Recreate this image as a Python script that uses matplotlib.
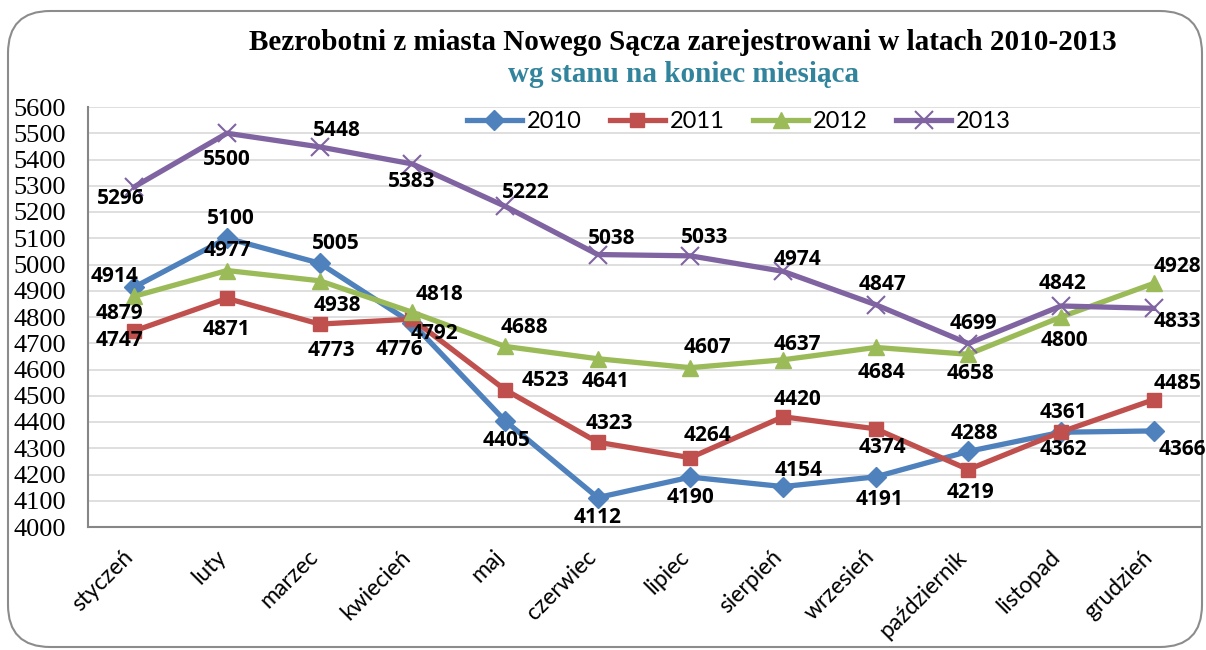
import matplotlib
matplotlib.use('Agg')
import matplotlib.pyplot as plt
from matplotlib.patches import FancyBboxPatch
from matplotlib.transforms import ScaledTranslation

months = ['styczeń', 'luty', 'marzec', 'kwiecień', 'maj', 'czerwiec', 'lipiec',
          'sierpień', 'wrzesień', 'październik', 'listopad', 'grudzień']
years = ['2010', '2011', '2012', '2013']
v2010 = [4914, 5100, 5005, 4776, 4405, 4112, 4190, 4154, 4191, 4288, 4361, 4366]
v2011 = [4747, 4871, 4773, 4792, 4523, 4323, 4264, 4420, 4374, 4219, 4362, 4485]
v2012 = [4879, 4977, 4938, 4818, 4688, 4641, 4607, 4637, 4684, 4658, 4800, 4928]
v2013 = [5296, 5500, 5448, 5383, 5222, 5038, 5033, 4974, 4847, 4699, 4842, 4833]
yticks = list(range(4000, 5601, 100))

series = [v2010, v2011, v2012, v2013]
colors = ['#4F81BD', '#C0504D', '#9BBB59', '#8064A2']
markers = ['D', 's', '^', 'x']
msizes = [10, 10, 12, 13]

# label offsets in pixels (dx, dy), y up
offsets = [
    [(-20, 11), (4, 20), (16, 20), (-13, -26), (2, -20), (0, -20), (0, -20),
     (16, 16), (4, -23), (6, 18), (2, 20), (29, -19)],
    [(-15, -10), (0, -31), (12, -26), (22, -14), (40, 9), (12, 19), (17, 22),
     (14, 17), (7, -19), (2, -23), (2, -18), (24, 16)],
    [(-15, -17), (0, 20), (18, -25), (27, 18), (19, 19), (8, -23), (17, 20),
     (14, 15), (6, -25), (2, -19), (3, -24), (24, 17)],
    [(-14, -12), (0, -26), (17, 16), (-1, -18), (21, 14), (14, 16), (14, 18),
     (15, 12), (7, 20), (5, 20), (2, 22), (24, -13)],
]

W, H = 1206, 650
fig = plt.figure(figsize=(W / 100, H / 100), dpi=100)

# rounded border
border = FancyBboxPatch((8 / W, 3 / H), (1194) / W, (636) / H,
                        boxstyle='round,pad=0,rounding_size=0.035',
                        transform=fig.transFigure, facecolor='none',
                        edgecolor='#8C8C8C', linewidth=1.5,
                        mutation_aspect=W / H, zorder=-1)
fig.patches.append(border)

ax = fig.add_axes([88 / W, 1 - 527 / H, 1112 / W, 420 / H])
ax.set_facecolor('none')
xs = list(range(len(months)))
ax.set_xlim(-0.5, len(months) - 0.5)
ax.set_ylim(4000, 5600)
ax.set_yticks(yticks)
ax.set_yticklabels([str(t) for t in yticks], family='Liberation Serif', fontsize=19)
ax.set_xticks(xs)
ax.set_xticklabels(months, rotation=45, ha='right', rotation_mode='anchor',
                   family='Lato', fontsize=16.5)
ax.tick_params(axis='both', length=0)
ax.tick_params(axis='y', pad=16)
ax.tick_params(axis='x', pad=14)
shift = ScaledTranslation(-12 / 100, 0, fig.dpi_scale_trans)
for lbl in ax.get_xticklabels():
    lbl.set_transform(lbl.get_transform() + shift)
ax.grid(axis='y', color='#D9D9D9', linewidth=1.2)
ax.set_axisbelow(True)
for s in ['top', 'right']:
    ax.spines[s].set_visible(False)
for s in ['left', 'bottom']:
    ax.spines[s].set_color('#868686')
    ax.spines[s].set_linewidth(1.5)

for vals, c, m, ms, yr, offs in zip(series, colors, markers, msizes, years, offsets):
    kw = dict(color=c, linewidth=3.8, marker=m, markersize=ms, label=yr, zorder=3)
    if m == 'x':
        kw.update(markeredgewidth=1.5)
    ax.plot(xs, vals, **kw)
    for xi, v, (dx, dy) in zip(xs, vals, offs):
        ax.annotate(str(v), (xi, v), xytext=(dx * 0.72, dy * 0.72),
                    textcoords='offset points', ha='center', va='center',
                    family='Open Sans', fontweight='bold', fontsize=15,
                    color='black', zorder=5)

leg = ax.legend(loc='center', bbox_to_anchor=((739 - 88) / 1112, (527 - 122) / 420),
                ncol=4, frameon=False, prop={'family': 'Lato', 'size': 17},
                handlelength=2.33, columnspacing=1.19, handletextpad=0.22,
                borderpad=0)

fig.text(683 / W, 1 - 42 / H, 'Bezrobotni z miasta Nowego Sącza zarejestrowani w latach 2010-2013',
         ha='center', va='center', family='Liberation Serif', fontweight='bold',
         fontsize=21, color='black')
fig.text(683 / W, 1 - 75 / H, 'wg stanu na koniec miesiąca',
         ha='center', va='center', family='Liberation Serif', fontweight='bold',
         fontsize=21, color='#31849B')

fig.savefig('out.png', dpi=100)
